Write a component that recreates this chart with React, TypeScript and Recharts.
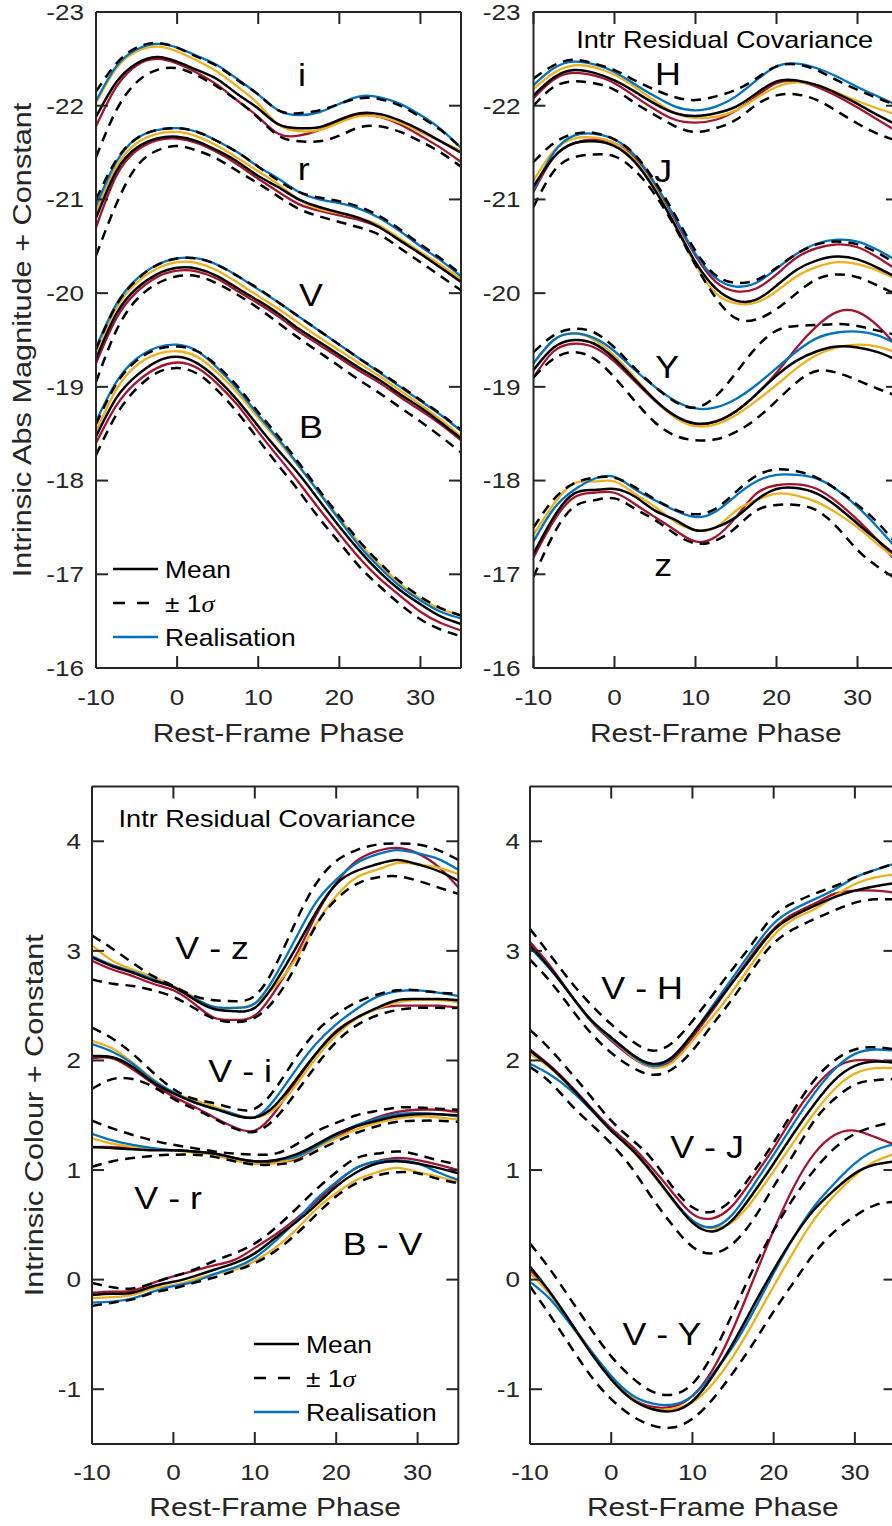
import React from 'react';
import { LineChart, Line, XAxis, YAxis, ReferenceDot, Legend, Label } from 'recharts';

const FONT = '"Liberation Sans", Arial, Helvetica, sans-serif';
const AX = '#262626';
const TXT = '#000000';
const BLUE = '#0072BD';
const YEL = '#EDB120';
const RED = '#A2142F';
const TICK = 12;
const DASH = '10 7';

// ---------- shared axes ----------
const phase = [-10, -7.5, -5, -2.5, 0, 2.5, 5, 7.5, 10, 12.5, 15, 17.5, 20, 22.5, 25, 27.5, 30, 32.5, 35];
const xTicks = [-10, 0, 10, 20, 30];
const magTicks = [-23, -22, -21, -20, -19, -18, -17, -16];
const colTicks = [-1, 0, 1, 2, 3, 4];

// ---------- top-left: i, r, V, B ----------
const iMean = [-21.88, -22.25, -22.45, -22.52, -22.47, -22.38, -22.28, -22.12, -21.97, -21.80, -21.76, -21.77, -21.85, -21.92, -21.91, -21.84, -21.74, -21.62, -21.50];
const iUp = [-22.15, -22.45, -22.62, -22.67, -22.62, -22.52, -22.42, -22.27, -22.12, -21.95, -21.92, -21.95, -22.02, -22.08, -22.07, -22.00, -21.88, -21.74, -21.55];
const iLo = [-21.45, -21.95, -22.25, -22.38, -22.40, -22.32, -22.20, -22.05, -21.87, -21.68, -21.62, -21.62, -21.68, -21.77, -21.78, -21.72, -21.62, -21.50, -21.35];
const iBlue = [-22.05, -22.42, -22.60, -22.66, -22.62, -22.53, -22.43, -22.28, -22.12, -21.95, -21.90, -21.93, -22.02, -22.10, -22.09, -22.02, -21.90, -21.75, -21.55];
const iYel = [-22.03, -22.40, -22.58, -22.63, -22.58, -22.48, -22.36, -22.20, -22.02, -21.80, -21.73, -21.74, -21.82, -21.89, -21.88, -21.82, -21.72, -21.62, -21.52];
const iRed = [-21.78, -22.20, -22.43, -22.50, -22.45, -22.35, -22.22, -22.05, -21.88, -21.70, -21.68, -21.74, -21.83, -21.90, -21.88, -21.80, -21.68, -21.55, -21.40];

const rMean = [-20.80, -21.30, -21.55, -21.65, -21.67, -21.62, -21.52, -21.40, -21.25, -21.13, -21.00, -20.92, -20.86, -20.80, -20.70, -20.56, -20.42, -20.27, -20.12];
const rUp = [-21.00, -21.42, -21.65, -21.74, -21.76, -21.72, -21.62, -21.50, -21.35, -21.20, -21.08, -21.02, -20.98, -20.92, -20.82, -20.68, -20.52, -20.37, -20.20];
const rLo = [-20.40, -20.95, -21.35, -21.52, -21.57, -21.52, -21.43, -21.30, -21.17, -21.03, -20.90, -20.82, -20.76, -20.70, -20.62, -20.48, -20.33, -20.18, -20.03];
const rBlue = [-20.93, -21.40, -21.65, -21.74, -21.76, -21.72, -21.62, -21.50, -21.35, -21.22, -21.08, -21.00, -20.96, -20.90, -20.80, -20.66, -20.50, -20.35, -20.18];
const rYel = [-20.87, -21.35, -21.60, -21.70, -21.72, -21.67, -21.57, -21.44, -21.30, -21.16, -21.00, -20.90, -20.85, -20.80, -20.72, -20.58, -20.44, -20.30, -20.15];
const rRed = [-20.70, -21.25, -21.52, -21.63, -21.65, -21.60, -21.50, -21.37, -21.22, -21.08, -20.95, -20.88, -20.83, -20.78, -20.70, -20.57, -20.42, -20.28, -20.13];

const vMean = [-19.30, -19.78, -20.05, -20.20, -20.27, -20.26, -20.18, -20.05, -19.92, -19.78, -19.62, -19.48, -19.34, -19.20, -19.07, -18.92, -18.78, -18.62, -18.45];
const vUp = [-19.40, -19.87, -20.14, -20.30, -20.37, -20.37, -20.30, -20.18, -20.05, -19.90, -19.75, -19.60, -19.45, -19.30, -19.16, -19.01, -18.86, -18.71, -18.54];
const vLo = [-19.05, -19.60, -19.93, -20.10, -20.18, -20.18, -20.10, -19.98, -19.84, -19.68, -19.52, -19.37, -19.22, -19.07, -18.93, -18.78, -18.63, -18.47, -18.30];
const vBlue = [-19.42, -19.88, -20.15, -20.30, -20.37, -20.37, -20.30, -20.18, -20.04, -19.90, -19.75, -19.60, -19.45, -19.30, -19.15, -19.00, -18.85, -18.70, -18.53];
const vYel = [-19.38, -19.84, -20.11, -20.26, -20.33, -20.32, -20.24, -20.11, -19.97, -19.83, -19.68, -19.53, -19.39, -19.25, -19.11, -18.96, -18.81, -18.65, -18.47];
const vRed = [-19.25, -19.73, -20.01, -20.17, -20.24, -20.23, -20.15, -20.02, -19.89, -19.75, -19.59, -19.45, -19.31, -19.17, -19.04, -18.89, -18.75, -18.60, -18.43];

const bMean = [-18.47, -18.88, -19.12, -19.27, -19.32, -19.25, -19.08, -18.85, -18.58, -18.32, -18.07, -17.79, -17.51, -17.25, -17.02, -16.83, -16.68, -16.55, -16.47];
const bUp = [-18.60, -19.03, -19.28, -19.40, -19.43, -19.38, -19.22, -19.00, -18.73, -18.47, -18.19, -17.90, -17.62, -17.35, -17.12, -16.92, -16.76, -16.64, -16.56];
const bLo = [-18.27, -18.70, -18.98, -19.15, -19.20, -19.14, -18.96, -18.72, -18.44, -18.16, -17.89, -17.60, -17.34, -17.08, -16.87, -16.68, -16.52, -16.41, -16.34];
const bBlue = [-18.63, -19.05, -19.30, -19.42, -19.45, -19.38, -19.20, -18.97, -18.70, -18.44, -18.16, -17.87, -17.58, -17.30, -17.07, -16.87, -16.72, -16.60, -16.53];
const bYel = [-18.52, -18.97, -19.23, -19.35, -19.38, -19.32, -19.15, -18.93, -18.67, -18.42, -18.15, -17.88, -17.60, -17.33, -17.10, -16.90, -16.74, -16.63, -16.56];
const bRed = [-18.40, -18.80, -19.05, -19.20, -19.26, -19.20, -19.03, -18.80, -18.52, -18.25, -17.98, -17.70, -17.43, -17.17, -16.95, -16.77, -16.60, -16.48, -16.40];

// ---------- top-right: H, J, Y, z ----------
const hMean = [-22.11, -22.30, -22.38, -22.35, -22.27, -22.15, -22.02, -21.92, -21.89, -21.92, -21.99, -22.13, -22.26, -22.27, -22.22, -22.13, -22.02, -21.90, -21.79];
const hUp = [-22.29, -22.43, -22.49, -22.45, -22.38, -22.27, -22.17, -22.09, -22.06, -22.10, -22.17, -22.29, -22.42, -22.44, -22.38, -22.27, -22.17, -22.08, -22.00];
const hLo = [-22.00, -22.20, -22.26, -22.24, -22.17, -22.03, -21.90, -21.78, -21.72, -21.76, -21.85, -22.01, -22.11, -22.12, -22.06, -21.94, -21.81, -21.70, -21.62];
const hBlue = [-22.22, -22.40, -22.47, -22.44, -22.36, -22.23, -22.10, -21.99, -21.95, -21.99, -22.10, -22.27, -22.42, -22.45, -22.40, -22.31, -22.20, -22.10, -22.00];
const hYel = [-22.18, -22.35, -22.43, -22.41, -22.33, -22.20, -22.05, -21.92, -21.87, -21.88, -21.95, -22.08, -22.20, -22.25, -22.22, -22.14, -22.05, -21.97, -21.90];
const hRed = [-22.08, -22.28, -22.35, -22.32, -22.24, -22.10, -21.96, -21.85, -21.82, -21.85, -21.95, -22.10, -22.24, -22.26, -22.20, -22.10, -21.98, -21.85, -21.72];

const jMean = [-21.14, -21.45, -21.60, -21.62, -21.57, -21.40, -21.10, -20.72, -20.33, -20.05, -19.92, -19.93, -20.08, -20.25, -20.35, -20.39, -20.36, -20.27, -20.16];
const jUp = [-21.40, -21.60, -21.70, -21.71, -21.64, -21.48, -21.19, -20.83, -20.45, -20.19, -20.11, -20.14, -20.27, -20.42, -20.52, -20.55, -20.52, -20.43, -20.30];
const jLo = [-20.92, -21.30, -21.45, -21.48, -21.46, -21.31, -21.05, -20.70, -20.30, -19.95, -19.73, -19.72, -19.83, -20.00, -20.15, -20.20, -20.17, -20.08, -19.98];
const jBlue = [-21.10, -21.50, -21.68, -21.70, -21.64, -21.47, -21.17, -20.80, -20.42, -20.16, -20.07, -20.11, -20.26, -20.42, -20.53, -20.57, -20.55, -20.46, -20.34];
const jYel = [-21.20, -21.52, -21.65, -21.66, -21.60, -21.42, -21.12, -20.72, -20.30, -20.00, -19.89, -19.90, -20.02, -20.18, -20.28, -20.33, -20.31, -20.24, -20.14];
const jRed = [-21.08, -21.45, -21.60, -21.64, -21.60, -21.44, -21.15, -20.78, -20.40, -20.12, -20.02, -20.05, -20.20, -20.38, -20.48, -20.52, -20.49, -20.38, -20.24];

const yMean = [-19.18, -19.42, -19.50, -19.46, -19.30, -19.08, -18.86, -18.69, -18.61, -18.63, -18.74, -18.92, -19.12, -19.28, -19.38, -19.43, -19.42, -19.37, -19.28];
const yUp = [-19.37, -19.55, -19.62, -19.58, -19.42, -19.20, -19.00, -18.84, -18.78, -18.90, -19.15, -19.42, -19.60, -19.65, -19.66, -19.67, -19.65, -19.60, -19.55];
const yLo = [-19.10, -19.30, -19.37, -19.30, -19.10, -18.85, -18.62, -18.48, -18.43, -18.44, -18.52, -18.66, -18.85, -19.05, -19.17, -19.15, -19.07, -18.98, -18.90];
const yBlue = [-19.25, -19.50, -19.57, -19.52, -19.38, -19.18, -19.00, -18.85, -18.77, -18.78, -18.87, -19.02, -19.20, -19.38, -19.52, -19.58, -19.59, -19.55, -19.45];
const yYel = [-19.25, -19.50, -19.57, -19.50, -19.33, -19.10, -18.86, -18.67, -18.58, -18.60, -18.70, -18.85, -19.02, -19.20, -19.34, -19.42, -19.45, -19.43, -19.36];
const yRed = [-19.10, -19.38, -19.46, -19.42, -19.27, -19.06, -18.85, -18.68, -18.60, -18.63, -18.74, -18.92, -19.15, -19.42, -19.65, -19.80, -19.80, -19.65, -19.42];

const zMean = [-17.22, -17.61, -17.86, -17.90, -17.91, -17.83, -17.68, -17.58, -17.47, -17.50, -17.61, -17.79, -17.91, -17.92, -17.86, -17.72, -17.54, -17.36, -17.18];
const zUp = [-17.50, -17.80, -17.97, -18.03, -18.03, -17.93, -17.80, -17.69, -17.64, -17.70, -17.88, -18.05, -18.12, -18.10, -18.03, -17.90, -17.74, -17.55, -17.30];
const zLo = [-16.97, -17.43, -17.72, -17.79, -17.81, -17.70, -17.58, -17.43, -17.33, -17.36, -17.50, -17.68, -17.74, -17.74, -17.68, -17.50, -17.26, -17.08, -16.94];
const zBlue = [-17.35, -17.70, -17.90, -18.02, -18.04, -17.91, -17.79, -17.68, -17.61, -17.67, -17.84, -17.99, -18.06, -18.06, -18.02, -17.90, -17.72, -17.50, -17.26];
const zYel = [-17.42, -17.75, -17.97, -17.99, -17.99, -17.86, -17.72, -17.56, -17.47, -17.50, -17.68, -17.79, -17.86, -17.84, -17.77, -17.65, -17.50, -17.32, -17.15];
const zRed = [-17.18, -17.57, -17.82, -17.87, -17.87, -17.75, -17.61, -17.47, -17.35, -17.40, -17.61, -17.86, -17.95, -17.96, -17.91, -17.77, -17.58, -17.36, -17.11];

// ---------- bottom-left: V-z, V-i, V-r, B-V ----------
const vzMean = [2.94, 2.86, 2.80, 2.73, 2.67, 2.56, 2.47, 2.45, 2.48, 2.71, 3.02, 3.35, 3.61, 3.73, 3.79, 3.83, 3.79, 3.73, 3.64];
const vzUp = [3.14, 3.02, 2.89, 2.77, 2.68, 2.59, 2.55, 2.54, 2.59, 2.86, 3.26, 3.61, 3.82, 3.92, 3.97, 3.98, 3.97, 3.92, 3.83];
const vzLo = [2.74, 2.70, 2.68, 2.64, 2.58, 2.48, 2.38, 2.35, 2.39, 2.56, 2.86, 3.23, 3.47, 3.61, 3.67, 3.68, 3.64, 3.58, 3.52];
const vzBlue = [2.95, 2.87, 2.81, 2.74, 2.67, 2.57, 2.49, 2.48, 2.52, 2.77, 3.11, 3.44, 3.65, 3.80, 3.88, 3.92, 3.89, 3.84, 3.74];
const vzYel = [3.05, 2.91, 2.83, 2.76, 2.68, 2.58, 2.48, 2.48, 2.52, 2.68, 2.92, 3.24, 3.50, 3.67, 3.74, 3.80, 3.79, 3.76, 3.70];
const vzRed = [2.91, 2.83, 2.77, 2.70, 2.64, 2.52, 2.39, 2.37, 2.41, 2.64, 2.95, 3.32, 3.62, 3.82, 3.91, 3.94, 3.89, 3.77, 3.58];

const viMean = [2.04, 2.03, 1.94, 1.80, 1.70, 1.62, 1.56, 1.50, 1.48, 1.59, 1.82, 2.06, 2.26, 2.39, 2.48, 2.55, 2.56, 2.56, 2.55];
const viUp = [2.30, 2.20, 2.06, 1.89, 1.74, 1.65, 1.61, 1.56, 1.56, 1.74, 2.02, 2.26, 2.42, 2.53, 2.60, 2.64, 2.64, 2.62, 2.61];
const viLo = [1.74, 1.83, 1.83, 1.76, 1.65, 1.56, 1.47, 1.38, 1.35, 1.47, 1.70, 1.95, 2.17, 2.32, 2.41, 2.46, 2.48, 2.48, 2.48];
const viBlue = [2.15, 2.08, 1.97, 1.82, 1.71, 1.62, 1.56, 1.51, 1.48, 1.65, 1.91, 2.15, 2.33, 2.47, 2.58, 2.63, 2.64, 2.62, 2.59];
const viYel = [2.18, 2.11, 1.98, 1.83, 1.71, 1.64, 1.58, 1.51, 1.48, 1.56, 1.77, 2.02, 2.23, 2.38, 2.47, 2.53, 2.55, 2.55, 2.53];
const viRed = [2.02, 2.02, 1.92, 1.79, 1.67, 1.58, 1.48, 1.39, 1.36, 1.53, 1.80, 2.06, 2.27, 2.39, 2.47, 2.50, 2.50, 2.50, 2.48];

const vrMean = [1.21, 1.20, 1.19, 1.18, 1.18, 1.17, 1.15, 1.11, 1.08, 1.09, 1.14, 1.23, 1.33, 1.40, 1.45, 1.49, 1.51, 1.51, 1.50];
const vrUp = [1.45, 1.38, 1.32, 1.27, 1.23, 1.20, 1.17, 1.15, 1.14, 1.15, 1.23, 1.35, 1.43, 1.50, 1.54, 1.57, 1.57, 1.56, 1.55];
const vrLo = [1.03, 1.08, 1.11, 1.13, 1.14, 1.14, 1.12, 1.08, 1.05, 1.05, 1.08, 1.17, 1.26, 1.34, 1.40, 1.44, 1.45, 1.45, 1.44];
const vrBlue = [1.33, 1.27, 1.23, 1.20, 1.18, 1.17, 1.15, 1.11, 1.08, 1.09, 1.12, 1.21, 1.32, 1.41, 1.47, 1.51, 1.52, 1.51, 1.49];
const vrYel = [1.29, 1.24, 1.21, 1.19, 1.18, 1.16, 1.14, 1.09, 1.06, 1.06, 1.11, 1.20, 1.29, 1.37, 1.43, 1.47, 1.49, 1.48, 1.46];
const vrRed = [1.21, 1.21, 1.20, 1.19, 1.18, 1.17, 1.14, 1.09, 1.06, 1.07, 1.10, 1.20, 1.30, 1.40, 1.48, 1.53, 1.55, 1.55, 1.53];

const bvMean = [-0.14, -0.13, -0.12, -0.06, -0.02, 0.03, 0.09, 0.15, 0.24, 0.38, 0.52, 0.68, 0.85, 0.98, 1.06, 1.08, 1.06, 1.02, 0.97];
const bvUp = [-0.03, -0.07, -0.08, -0.03, 0.03, 0.09, 0.17, 0.24, 0.33, 0.47, 0.64, 0.82, 0.98, 1.11, 1.15, 1.17, 1.14, 1.09, 1.05];
const bvLo = [-0.24, -0.21, -0.18, -0.12, -0.08, -0.03, 0.02, 0.08, 0.15, 0.26, 0.41, 0.59, 0.76, 0.88, 0.95, 0.98, 0.97, 0.92, 0.88];
const bvBlue = [-0.21, -0.20, -0.17, -0.11, -0.06, -0.02, 0.05, 0.11, 0.20, 0.35, 0.53, 0.73, 0.89, 1.02, 1.08, 1.09, 1.06, 0.98, 0.91];
const bvYel = [-0.17, -0.16, -0.14, -0.08, -0.05, 0.00, 0.05, 0.09, 0.17, 0.29, 0.45, 0.64, 0.79, 0.91, 0.98, 1.02, 0.98, 0.94, 0.89];
const bvRed = [-0.12, -0.11, -0.10, -0.03, 0.03, 0.08, 0.13, 0.18, 0.29, 0.41, 0.55, 0.71, 0.88, 1.02, 1.08, 1.11, 1.09, 1.05, 1.00];

// ---------- bottom-right: V-H, V-J, V-Y ----------
const vhMean = [3.05, 2.84, 2.60, 2.37, 2.21, 2.06, 1.97, 2.03, 2.24, 2.48, 2.72, 2.96, 3.19, 3.32, 3.41, 3.49, 3.55, 3.59, 3.62];
const vhUp = [3.20, 2.96, 2.72, 2.51, 2.33, 2.18, 2.09, 2.16, 2.36, 2.60, 2.84, 3.08, 3.32, 3.44, 3.52, 3.59, 3.67, 3.74, 3.80];
const vhLo = [2.92, 2.72, 2.48, 2.25, 2.07, 1.94, 1.87, 1.92, 2.09, 2.33, 2.57, 2.84, 3.07, 3.20, 3.29, 3.37, 3.44, 3.47, 3.47];
const vhBlue = [3.03, 2.83, 2.60, 2.37, 2.20, 2.05, 1.95, 2.02, 2.24, 2.50, 2.76, 3.02, 3.25, 3.38, 3.47, 3.56, 3.67, 3.74, 3.80];
const vhYel = [3.05, 2.84, 2.60, 2.37, 2.20, 2.04, 1.94, 1.98, 2.18, 2.40, 2.64, 2.90, 3.14, 3.29, 3.38, 3.50, 3.61, 3.67, 3.70];
const vhRed = [3.08, 2.86, 2.60, 2.36, 2.18, 2.03, 1.94, 2.00, 2.21, 2.46, 2.72, 2.98, 3.20, 3.34, 3.43, 3.52, 3.55, 3.55, 3.53];

const vjMean = [2.09, 1.94, 1.76, 1.56, 1.36, 1.19, 0.98, 0.74, 0.52, 0.44, 0.55, 0.79, 1.06, 1.34, 1.60, 1.82, 1.95, 1.99, 1.98];
const vjUp = [2.28, 2.10, 1.89, 1.67, 1.45, 1.28, 1.10, 0.85, 0.66, 0.62, 0.74, 0.98, 1.25, 1.55, 1.82, 2.00, 2.10, 2.12, 2.10];
const vjLo = [1.94, 1.80, 1.60, 1.42, 1.24, 1.02, 0.75, 0.50, 0.30, 0.24, 0.33, 0.55, 0.85, 1.15, 1.45, 1.65, 1.78, 1.82, 1.83];
const vjBlue = [1.97, 1.87, 1.73, 1.55, 1.36, 1.19, 0.98, 0.74, 0.54, 0.48, 0.60, 0.86, 1.14, 1.43, 1.70, 1.92, 2.06, 2.10, 2.09];
const vjYel = [2.06, 1.93, 1.75, 1.55, 1.36, 1.18, 0.97, 0.73, 0.53, 0.47, 0.53, 0.73, 0.99, 1.26, 1.52, 1.74, 1.88, 1.93, 1.93];
const vjRed = [2.10, 1.95, 1.77, 1.57, 1.38, 1.22, 1.02, 0.80, 0.60, 0.56, 0.68, 0.93, 1.20, 1.50, 1.75, 1.93, 2.00, 2.00, 1.98];

const vyMean = [0.12, -0.12, -0.39, -0.67, -0.91, -1.09, -1.18, -1.20, -1.11, -0.88, -0.58, -0.24, 0.09, 0.39, 0.64, 0.82, 0.97, 1.05, 1.08];
const vyUp = [0.33, 0.09, -0.18, -0.45, -0.70, -0.89, -1.02, -1.05, -0.95, -0.68, -0.30, 0.10, 0.45, 0.75, 1.00, 1.20, 1.33, 1.40, 1.44];
const vyLo = [-0.06, -0.33, -0.61, -0.88, -1.09, -1.24, -1.33, -1.35, -1.27, -1.09, -0.85, -0.58, -0.29, -0.02, 0.24, 0.44, 0.58, 0.68, 0.71];
const vyBlue = [-0.02, -0.18, -0.41, -0.65, -0.88, -1.05, -1.13, -1.14, -1.06, -0.86, -0.61, -0.29, 0.06, 0.39, 0.67, 0.88, 1.06, 1.18, 1.24];
const vyYel = [0.06, -0.14, -0.40, -0.66, -0.90, -1.08, -1.18, -1.18, -1.12, -0.95, -0.70, -0.39, -0.06, 0.26, 0.55, 0.77, 0.95, 1.08, 1.15];
const vyRed = [0.09, -0.13, -0.39, -0.65, -0.89, -1.08, -1.16, -1.16, -1.06, -0.82, -0.45, 0.00, 0.45, 0.85, 1.15, 1.32, 1.36, 1.30, 1.23];

// ---------- helpers ----------
const SERIES = ['red', 'yel', 'blue', 'mean', 'up', 'lo'];
const STYLE: any = {
  red: { c: RED, w: 2.3 },
  yel: { c: YEL, w: 2.3 },
  blue: { c: BLUE, w: 2.3 },
  mean: { c: '#000000', w: 2.5 },
  up: { c: '#000000', w: 2.5, d: DASH },
  lo: { c: '#000000', w: 2.5, d: DASH },
};

function band(key: string, mean: number[], up: number[], lo: number[], blue: number[], yel: number[], red: number[]) {
  return { key, mean, up, lo, blue, yel, red } as any;
}

function buildRows(bands: any[]) {
  return phase.map((p, k) => {
    const row: any = { phase: p };
    bands.forEach((b) => SERIES.forEach((s) => { row[`${b.key}_${s}`] = b[s][k]; }));
    return row;
  });
}

function SText({ x, y, size, sx = 1.16, anchor = 'middle', rotate = 0, fill = AX, children }: any) {
  const tr = `translate(${x},${y})${rotate ? ` rotate(${rotate})` : ''} scale(${sx},1)`;
  return (
    <text transform={tr} x={0} y={0} textAnchor={anchor} dominantBaseline="central" fontSize={size} fontFamily={FONT} fill={fill}>
      {children}
    </text>
  );
}

function LegendBox() {
  const rows = [
    { y: 19, dash: undefined, c: '#000000', t: 'Mean' },
    { y: 53, dash: '12 12', c: '#000000', t: 'pm' },
    { y: 87, dash: undefined, c: BLUE, t: 'Realisation' },
  ];
  return (
    <svg width={240} height={110} style={{ overflow: 'visible', display: 'block' }}>
      {rows.map((r) => (
        <g key={r.t}>
          <line x1={8} x2={53} y1={r.y} y2={r.y} stroke={r.c} strokeWidth={2.5} strokeDasharray={r.dash} />
          {r.t === 'pm' ? (
            <text transform={`translate(60,${r.y}) scale(1.1,1)`} dominantBaseline="central" fontSize={24} fontFamily={FONT} fill={TXT}>
              {'\u00B1 1'}
              <tspan fontFamily='"Liberation Serif", "DejaVu Serif", serif' fontStyle="italic">{'\u03C3'}</tspan>
            </text>
          ) : (
            <text transform={`translate(60,${r.y}) scale(1.1,1)`} dominantBaseline="central" fontSize={24} fontFamily={FONT} fill={TXT}>
              {r.t}
            </text>
          )}
        </g>
      ))}
    </svg>
  );
}

function Panel({ cfg }: any) {
  const { left, top, width, height, plot, yDomain, yTicks, reversed, bands, labels, title, legend, yTitle, tickGap, xLabY, xTitleY, yTitleX } = cfg;
  const rows = buildRows(bands);
  const pl = plot.left - left;
  const pr = plot.right - left;
  const pt = plot.top - top;
  const pb = plot.bottom - top;
  const midX = (pl + pr) / 2;
  const midY = (pt + pb) / 2;
  const axisLine = { stroke: AX, strokeWidth: 2 };
  const tickLine = { stroke: AX, strokeWidth: 2 };

  // inward ticks are drawn by Recharts (negative tickSize); these render only the numbers
  const xTick = (p: any) => (
    <SText x={p.x} y={xLabY - top} size={22.5} sx={1.16}>{String(p.payload.value)}</SText>
  );
  const yTick = (p: any) => (
    <SText x={pl - tickGap} y={p.y} size={22.5} sx={1.16} anchor="end">{String(p.payload.value)}</SText>
  );
  const noText = () => <g />;

  const lines: any[] = [];
  SERIES.forEach((s) =>
    bands.forEach((b: any) =>
      lines.push(
        <Line
          key={`${b.key}_${s}`}
          xAxisId="b"
          yAxisId="l"
          dataKey={`${b.key}_${s}`}
          type="natural"
          dot={false}
          activeDot={false}
          isAnimationActive={false}
          stroke={STYLE[s].c}
          strokeWidth={STYLE[s].w}
          strokeDasharray={STYLE[s].d}
        />
      )
    )
  );

  return (
    <div style={{ position: 'absolute', left, top, width, height }}>
      <LineChart width={width} height={height} data={rows} margin={{ top: pt - 1, right: width - pr - 1, bottom: 0, left: 0 }}>
        <XAxis
          xAxisId="b"
          type="number"
          dataKey="phase"
          domain={[-10, 35]}
          ticks={xTicks}
          interval={0}
          allowDataOverflow
          height={height - pb}
          tickSize={-TICK}
          tickMargin={0}
          tickLine={tickLine}
          axisLine={axisLine}
          tick={xTick}
        >
          <Label content={() => <SText x={midX} y={xTitleY - top} size={25} sx={1.2}>Rest-Frame Phase</SText>} />
        </XAxis>
        <XAxis
          xAxisId="t"
          orientation="top"
          type="number"
          dataKey="phase"
          domain={[-10, 35]}
          ticks={xTicks}
          interval={0}
          allowDataOverflow
          height={1}
          tickSize={-TICK}
          tickMargin={0}
          tickLine={tickLine}
          axisLine={axisLine}
          tick={noText}
        />
        <YAxis
          yAxisId="l"
          type="number"
          domain={yDomain}
          ticks={yTicks}
          interval={0}
          allowDataOverflow
          reversed={reversed}
          width={pl}
          tickSize={-TICK}
          tickMargin={0}
          tickLine={tickLine}
          axisLine={axisLine}
          tick={yTick}
        >
          {yTitle ? (
            <Label content={() => <SText x={yTitleX - left} y={midY} rotate={-90} size={26} sx={1.18}>{yTitle}</SText>} />
          ) : null}
        </YAxis>
        <YAxis
          yAxisId="r"
          orientation="right"
          type="number"
          domain={yDomain}
          ticks={yTicks}
          interval={0}
          allowDataOverflow
          reversed={reversed}
          width={1}
          tickSize={-TICK}
          tickMargin={0}
          tickLine={tickLine}
          axisLine={axisLine}
          tick={noText}
        />
        {lines}
        {labels.map((l: any) => (
          <ReferenceDot
            key={l.t}
            xAxisId="b"
            yAxisId="l"
            x={l.x}
            y={l.y}
            r={1}
            ifOverflow="visible"
            shape={(p: any) => <SText x={p.cx} y={p.cy} size={32} sx={1.12} fill={TXT}>{l.t}</SText>}
          />
        ))}
        {title ? (
          <ReferenceDot
            xAxisId="b"
            yAxisId="l"
            x={title.x}
            y={title.y}
            r={1}
            ifOverflow="visible"
            shape={(p: any) => <SText x={p.cx} y={p.cy} size={23} sx={1.18} fill={TXT}>Intr Residual Covariance</SText>}
          />
        ) : null}
        {legend ? (
          <Legend
            layout="horizontal"
            verticalAlign="middle"
            align="center"
            wrapperStyle={{ left: legend.x, top: legend.y, width: 240, height: 110 }}
            content={() => <LegendBox />}
          />
        ) : null}
      </LineChart>
    </div>
  );
}

const panels = [
  {
    left: 0, top: 0, width: 470, height: 770,
    plot: { left: 96, right: 461, top: 12, bottom: 668 },
    yDomain: [-23, -16], yTicks: magTicks, reversed: true, tickGap: 12,
    xLabY: 697, xTitleY: 733, yTitleX: 22, yTitle: 'Intrinsic Abs Magnitude + Constant',
    bands: [
      band('i', iMean, iUp, iLo, iBlue, iYel, iRed),
      band('r', rMean, rUp, rLo, rBlue, rYel, rRed),
      band('V', vMean, vUp, vLo, vBlue, vYel, vRed),
      band('B', bMean, bUp, bLo, bBlue, bYel, bRed),
    ],
    labels: [
      { t: 'i', x: 15.4, y: -22.33 },
      { t: 'r', x: 15.6, y: -21.33 },
      { t: 'V', x: 16.5, y: -19.98 },
      { t: 'B', x: 16.5, y: -18.57 },
    ],
    legend: { x: 105, y: 550 },
  },
  {
    left: 470, top: 0, width: 440, height: 770,
    plot: { left: 533.5, right: 898, top: 12, bottom: 668 },
    yDomain: [-23, -16], yTicks: magTicks, reversed: true, tickGap: 13,
    xLabY: 697, xTitleY: 733,
    bands: [
      band('H', hMean, hUp, hLo, hBlue, hYel, hRed),
      band('J', jMean, jUp, jLo, jBlue, jYel, jRed),
      band('Y', yMean, yUp, yLo, yBlue, yYel, yRed),
      band('z', zMean, zUp, zLo, zBlue, zYel, zRed),
    ],
    labels: [
      { t: 'H', x: 6.6, y: -22.34 },
      { t: 'J', x: 6.0, y: -21.31 },
      { t: 'Y', x: 6.5, y: -19.21 },
      { t: 'z', x: 6.0, y: -17.1 },
    ],
    title: { x: 13.6, y: -22.7 },
  },
  {
    left: 0, top: 770, width: 470, height: 756,
    plot: { left: 92, right: 458.3, top: 786.5, bottom: 1444 },
    yDomain: [-1.5, 4.5], yTicks: colTicks, reversed: false, tickGap: 11,
    xLabY: 1472, xTitleY: 1507, yTitleX: 34, yTitle: 'Intrinsic Colour + Constant',
    bands: [
      band('vz', vzMean, vzUp, vzLo, vzBlue, vzYel, vzRed),
      band('vi', viMean, viUp, viLo, viBlue, viYel, viRed),
      band('vr', vrMean, vrUp, vrLo, vrBlue, vrYel, vrRed),
      band('bv', bvMean, bvUp, bvLo, bvBlue, bvYel, bvRed),
    ],
    labels: [
      { t: 'V - z', x: 4.76, y: 3.03 },
      { t: 'V - i', x: 8.2, y: 1.91 },
      { t: 'V - r', x: -0.65, y: 0.75 },
      { t: 'B - V', x: 25.7, y: 0.33 },
    ],
    title: { x: 11.5, y: 4.21 },
    legend: { x: 246, y: 555 },
  },
  {
    left: 470, top: 770, width: 440, height: 756,
    plot: { left: 530, right: 895.5, top: 786.5, bottom: 1444 },
    yDomain: [-1.5, 4.5], yTicks: colTicks, reversed: false, tickGap: 10,
    xLabY: 1472, xTitleY: 1507,
    bands: [
      band('vh', vhMean, vhUp, vhLo, vhBlue, vhYel, vhRed),
      band('vj', vjMean, vjUp, vjLo, vjBlue, vjYel, vjRed),
      band('vy', vyMean, vyUp, vyLo, vyBlue, vyYel, vyRed),
    ],
    labels: [
      { t: 'V - H', x: 3.8, y: 2.66 },
      { t: 'V - J', x: 11.8, y: 1.21 },
      { t: 'V - Y', x: 6.25, y: -0.49 },
    ],
  },
];

export default function App() {
  return (
    <div style={{ position: 'absolute', left: 0, top: 0, width: 892, height: 1526, overflow: 'hidden', background: '#ffffff' }}>
      {panels.map((cfg, k) => (
        <Panel key={k} cfg={cfg} />
      ))}
    </div>
  );
}
